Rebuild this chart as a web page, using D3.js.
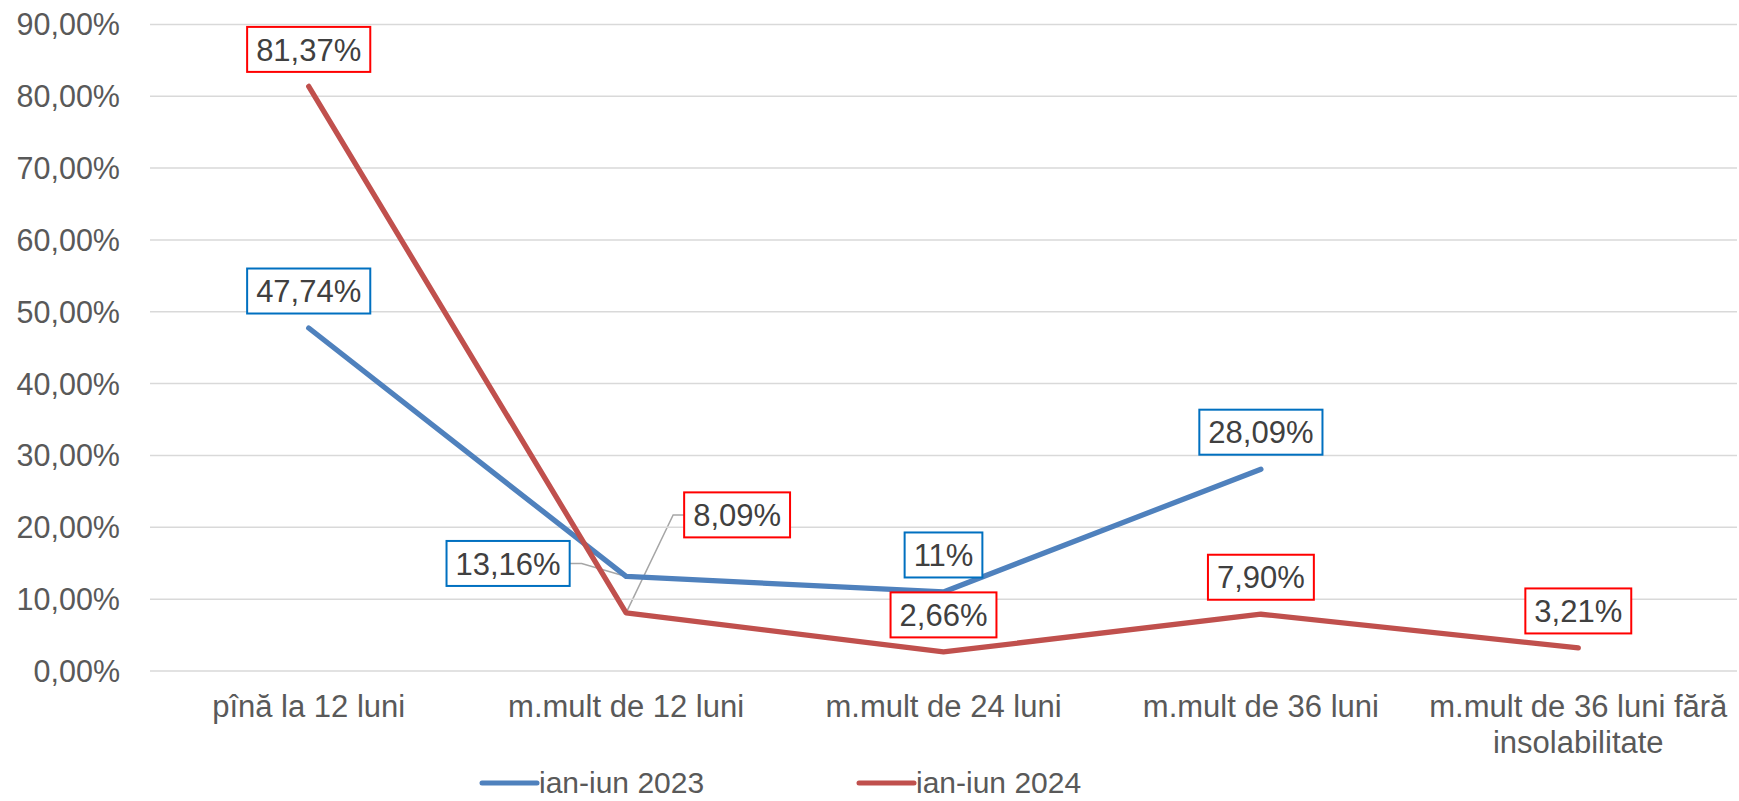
<!DOCTYPE html>
<html>
<head>
<meta charset="utf-8">
<script src="https://cdn.jsdelivr.net/npm/d3@7"></script>
<style>
  body { margin: 0; background: #fff; }
  svg text { font-family: "Liberation Sans", Arial, sans-serif; }
</style>
</head>
<body>
<svg id="chart"></svg>
<script>
// categories and series
const categories = [
    ["pînă la 12 luni"],
    ["m.mult de 12 luni"],
    ["m.mult de 24 luni"],
    ["m.mult de 36 luni"],
    ["m.mult de 36 luni fără", "insolabilitate"]
];
const series2023 = [47.74, 13.16, 11, 28.09];
const labels2023 = ["47,74%", "13,16%", "11%", "28,09%"];
const series2024 = [81.37, 8.09, 2.66, 7.90, 3.21];
const labels2024 = ["81,37%", "8,09%", "2,66%", "7,90%", "3,21%"];
const yTicks = [0, 10, 20, 30, 40, 50, 60, 70, 80, 90];
const seriesNames = ["ian-iun 2023", "ian-iun 2024"];

const width = 1739;
const height = 801;
const margin = { left: 150, right: 2, top: 24.4, bottom: 130 };

const svg = d3.select("#chart").attr("width", width).attr("height", height);

const x = d3.scaleBand()
    .domain(d3.range(categories.length))
    .range([margin.left, width - margin.right]);

const y = d3.scaleLinear()
    .domain([0, 90])
    .range([671, margin.top]);

const fmt = v => v.toFixed(2).replace(".", ",") + "%";

// gridlines
svg.append("g")
    .selectAll("line")
    .data(yTicks)
    .enter()
    .append("line")
    .attr("x1", margin.left)
    .attr("x2", width - margin.right)
    .attr("y1", d => y(d))
    .attr("y2", d => y(d))
    .attr("stroke", "#d9d9d9")
    .attr("stroke-width", 1.5);

// y tick labels
svg.append("g")
    .selectAll("text")
    .data(yTicks)
    .enter()
    .append("text")
    .attr("x", 120)
    .attr("y", d => y(d))
    .attr("dy", "0.36em")
    .attr("text-anchor", "end")
    .attr("font-size", 30.5)
    .attr("fill", "#595959")
    .text(d => fmt(d));

// category labels
const cat = svg.append("g")
    .selectAll("text")
    .data(categories)
    .enter()
    .append("text")
    .attr("x", (d, i) => x(i) + x.bandwidth() / 2)
    .attr("y", 717)
    .attr("text-anchor", "middle")
    .attr("font-size", 31)
    .attr("fill", "#595959");
cat.selectAll("tspan")
    .data(d => d)
    .enter()
    .append("tspan")
    .attr("x", function () { return d3.select(this.parentNode).attr("x"); })
    .attr("dy", (d, i) => i === 0 ? 0 : 36)
    .text(d => d);

const cx = i => x(i) + x.bandwidth() / 2;
const line = d3.line().x((d, i) => cx(i)).y(d => y(d));

const blue = "#4f81bd";
const red = "#c0504d";

svg.append("path")
    .datum(series2023)
    .attr("d", line)
    .attr("fill", "none")
    .attr("stroke", blue)
    .attr("stroke-width", 5.3)
    .attr("stroke-linejoin", "round")
    .attr("stroke-linecap", "round");

svg.append("path")
    .datum(series2024)
    .attr("d", line)
    .attr("fill", "none")
    .attr("stroke", red)
    .attr("stroke-width", 5.3)
    .attr("stroke-linejoin", "round")
    .attr("stroke-linecap", "round");

// data labels: default sits centered 37px above its point,
// a couple were dragged aside in the original and get a leader line
const moved2023 = { 1: { dx: -118, dy: -13, leader: true } };
const moved2024 = { 1: { dx: 111, dy: -98, leader: true } };

function drawLabels(values, texts, border, moved) {
    values.forEach((v, i) => {
        const px = cx(i), py = y(v);
        const m = moved[i] || { dx: 0, dy: -37 };
        const lx = px + m.dx, ly = py + m.dy;
        const g = svg.append("g");
        const t = g.append("text")
            .attr("x", lx)
            .attr("y", ly)
            .attr("dy", "0.36em")
            .attr("text-anchor", "middle")
            .attr("font-size", 31)
            .attr("fill", "#404040")
            .text(texts[i]);
        const bb = t.node().getBBox();
        const w = bb.width + 18, h = 45;
        g.insert("rect", "text")
            .attr("x", lx - w / 2)
            .attr("y", ly - h / 2)
            .attr("width", w)
            .attr("height", h)
            .attr("fill", "#fff")
            .attr("stroke", border)
            .attr("stroke-width", 2);
        if (m.leader) {
            const side = m.dx < 0 ? lx + w / 2 : lx - w / 2;
            const elbow = m.dx < 0 ? side + 12 : side - 11;
            svg.insert("path", "g")
                .attr("d", `M${side},${ly}L${elbow},${ly}L${px},${py}`)
                .attr("fill", "none")
                .attr("stroke", "#a6a6a6")
                .attr("stroke-width", 1.5);
        }
    });
}

drawLabels(series2023, labels2023, "#0070c0", moved2023);
drawLabels(series2024, labels2024, "#ff0000", moved2024);

// legend
const legendX = [482, 859];
const legend = svg.append("g")
    .selectAll("g")
    .data(seriesNames)
    .enter()
    .append("g")
    .attr("transform", (d, i) => `translate(${legendX[i]},783)`);
legend.append("line")
    .attr("x1", 0).attr("x2", 55)
    .attr("stroke", (d, i) => i === 0 ? blue : red)
    .attr("stroke-width", 5)
    .attr("stroke-linecap", "round");
legend.append("text")
    .attr("x", 57)
    .attr("dy", "0.34em")
    .attr("font-size", 30)
    .attr("fill", "#595959")
    .text(d => d);
</script>
</body>
</html>
